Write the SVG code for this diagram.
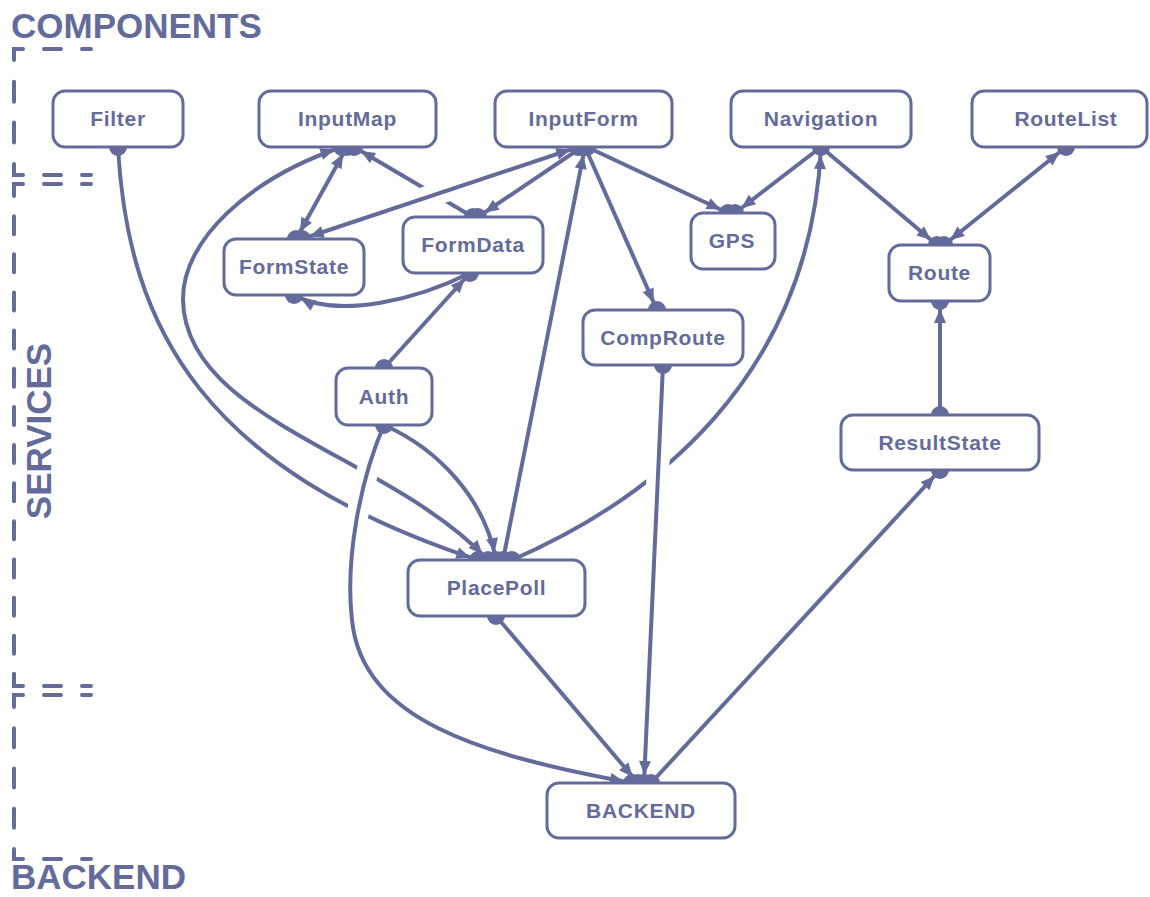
<svg xmlns="http://www.w3.org/2000/svg" width="1150" height="897" viewBox="0 0 1150 897">
<style>
.edge{fill:none;stroke:#646b9b;stroke-width:4}
.halo{fill:none;stroke:#ffffff;stroke-width:22}
.dot{fill:#646b9b}
.node rect{fill:#ffffff;stroke:#646b9b;stroke-width:3}
.node text{font-family:"Liberation Sans",Arial,sans-serif;font-weight:bold;font-size:21px;fill:#646b9b;text-anchor:middle;letter-spacing:0.7px}
.lane{fill:none;stroke:#646b9b;stroke-width:4;stroke-linecap:round}
.lane-label{font-family:"Liberation Sans",Arial,sans-serif;font-weight:bold;font-size:35px;fill:#646b9b}
</style>
<defs>
<marker id="arrow" markerUnits="userSpaceOnUse" markerWidth="14" markerHeight="12" refX="22" refY="6" orient="auto-start-reverse" overflow="visible">
<path d="M0,0 L14,6 L0,12 Z" fill="#646b9b"/>
</marker>
</defs>

<g id="lanes">
<text class="lane-label" x="11" y="38">COMPONENTS</text>
<text class="lane-label" x="11" y="889" font-size="34">BACKEND</text>
<text class="lane-label" transform="translate(51,431) rotate(-90)" text-anchor="middle" font-size="34">SERVICES</text>
<path class="lane" d="M23,49 H14 V60"/>
<path class="lane" d="M44,49 H61 M82,49 H91"/>
<path class="lane" d="M14,164 V175 H23"/>
<path class="lane" d="M44,175 H61 M82,175 H91"/>
<path class="lane" d="M14,81.7 V101.7 M14,122.4 V142.4"/>
<path class="lane" d="M23,184 H14 V196"/>
<path class="lane" d="M44,184 H61 M82,184 H91"/>
<path class="lane" d="M14,674 V686 H23"/>
<path class="lane" d="M44,686 H61 M82,686 H91"/>
<path class="lane" d="M14,196 V674" stroke-dasharray="18 20.15" stroke-dashoffset="18"/>
<path class="lane" d="M23,695 H14 V707"/>
<path class="lane" d="M44,695 H61 M82,695 H91"/>
<path class="lane" d="M14,849 V859 H23"/>
<path class="lane" d="M44,859 H61 M82,859 H91"/>
<path class="lane" d="M14,707 V849" stroke-dasharray="19 21.25" stroke-dashoffset="19"/>
</g>

<g id="connectors">
<path class="edge" d="M118,147 C128,330 205,470 478,560" marker-end="url(#arrow)"/>
<path class="edge" d="M488,560 C390,455 185,420 183,300 C182,240 250,178 342,147" marker-start="url(#arrow)" marker-end="url(#arrow)"/>
<path class="edge" d="M347,147 L296,239" marker-start="url(#arrow)" marker-end="url(#arrow)"/>
<path class="edge" d="M473,217 L354,147" marker-end="url(#arrow)"/>
<path class="edge" d="M582,147 L478,217" marker-end="url(#arrow)"/>
<path class="edge" d="M503,560 L585,147" marker-end="url(#arrow)"/>
<path class="edge" d="M587,147 L728,213" marker-end="url(#arrow)"/>
<path class="edge" d="M585,147 L657,310" marker-end="url(#arrow)"/>
<path class="edge" d="M821,147 L735,213" marker-end="url(#arrow)"/>
<path class="edge" d="M821,147 L937,245" marker-end="url(#arrow)"/>
<path class="edge" d="M1066,147 L944,245" marker-start="url(#arrow)" marker-end="url(#arrow)"/>
<path class="edge" d="M940,415 L940,301" marker-end="url(#arrow)"/>
<path class="edge" d="M651,783 L940,470" marker-end="url(#arrow)"/>
<path class="edge" d="M496,616 L638,783" marker-end="url(#arrow)"/>
<path class="edge" d="M384,425 C440,450 485,500 496,560" marker-end="url(#arrow)"/>
<path class="edge" d="M384,368 L470,273" marker-end="url(#arrow)"/>
<path class="edge" d="M470,273 C420,298 340,320 294,295" marker-end="url(#arrow)"/>
<path class="edge" d="M512,560 C650,500 810,380 821,147" marker-end="url(#arrow)"/>
<path class="halo" d="M372,455 Q360,495 354,535"/>
<path class="halo" d="M659,455 L656,500"/>
<path class="halo" d="M452,189 L412,202"/>
<path class="edge" d="M578,147 L302,239" marker-start="url(#arrow)" marker-end="url(#arrow)"/>
<path class="edge" d="M663,365 L644,783" marker-end="url(#arrow)"/>
<path class="edge" d="M384,425 C360,480 345,560 352,620 C362,720 480,755 632,783" marker-end="url(#arrow)"/>
<circle class="dot" cx="118" cy="147" r="9"/>
<circle class="dot" cx="342" cy="147" r="9"/>
<circle class="dot" cx="347" cy="147" r="9"/>
<circle class="dot" cx="354" cy="147" r="9"/>
<circle class="dot" cx="578" cy="147" r="9"/>
<circle class="dot" cx="582" cy="147" r="9"/>
<circle class="dot" cx="585" cy="147" r="9"/>
<circle class="dot" cx="587" cy="147" r="9"/>
<circle class="dot" cx="821" cy="147" r="9"/>
<circle class="dot" cx="1066" cy="147" r="9"/>
<circle class="dot" cx="296" cy="239" r="9"/>
<circle class="dot" cx="302" cy="239" r="9"/>
<circle class="dot" cx="294" cy="295" r="9"/>
<circle class="dot" cx="473" cy="217" r="9"/>
<circle class="dot" cx="478" cy="217" r="9"/>
<circle class="dot" cx="470" cy="273" r="9"/>
<circle class="dot" cx="728" cy="213" r="9"/>
<circle class="dot" cx="735" cy="213" r="9"/>
<circle class="dot" cx="937" cy="245" r="9"/>
<circle class="dot" cx="944" cy="245" r="9"/>
<circle class="dot" cx="940" cy="301" r="9"/>
<circle class="dot" cx="657" cy="310" r="9"/>
<circle class="dot" cx="663" cy="365" r="9"/>
<circle class="dot" cx="384" cy="368" r="9"/>
<circle class="dot" cx="384" cy="425" r="9"/>
<circle class="dot" cx="940" cy="415" r="9"/>
<circle class="dot" cx="940" cy="470" r="9"/>
<circle class="dot" cx="478" cy="560" r="9"/>
<circle class="dot" cx="488" cy="560" r="9"/>
<circle class="dot" cx="496" cy="560" r="9"/>
<circle class="dot" cx="503" cy="560" r="9"/>
<circle class="dot" cx="512" cy="560" r="9"/>
<circle class="dot" cx="496" cy="616" r="9"/>
<circle class="dot" cx="632" cy="783" r="9"/>
<circle class="dot" cx="638" cy="783" r="9"/>
<circle class="dot" cx="644" cy="783" r="9"/>
<circle class="dot" cx="651" cy="783" r="9"/>
</g>

<g id="node-filter" class="node"><rect x="53" y="91" width="130" height="56" rx="12"/><text x="118" y="126">Filter</text></g>
<g id="node-inputmap" class="node"><rect x="259" y="91" width="177" height="56" rx="12"/><text x="347.5" y="126">InputMap</text></g>
<g id="node-inputform" class="node"><rect x="495" y="91" width="177" height="56" rx="12"/><text x="583.5" y="126">InputForm</text></g>
<g id="node-navigation" class="node"><rect x="731" y="91" width="180" height="56" rx="12"/><text x="821" y="126">Navigation</text></g>
<g id="node-routelist" class="node"><rect x="972" y="91" width="175" height="56" rx="12"/><text x="1066" y="126">RouteList</text></g>
<g id="node-formstate" class="node"><rect x="224" y="239" width="140" height="56" rx="12"/><text x="294" y="274">FormState</text></g>
<g id="node-formdata" class="node"><rect x="403" y="217" width="140" height="56" rx="12"/><text x="473" y="252">FormData</text></g>
<g id="node-gps" class="node"><rect x="691" y="213" width="84" height="56" rx="12"/><text x="732" y="248">GPS</text></g>
<g id="node-route" class="node"><rect x="889" y="245" width="101" height="56" rx="12"/><text x="939.5" y="280">Route</text></g>
<g id="node-comproute" class="node"><rect x="583" y="310" width="160" height="55" rx="12"/><text x="663" y="345">CompRoute</text></g>
<g id="node-auth" class="node"><rect x="336" y="368" width="96" height="57" rx="12"/><text x="384" y="404">Auth</text></g>
<g id="node-resultstate" class="node"><rect x="841" y="415" width="198" height="55" rx="12"/><text x="940" y="450">ResultState</text></g>
<g id="node-placepoll" class="node"><rect x="408" y="560" width="177" height="56" rx="12"/><text x="496.5" y="595">PlacePoll</text></g>
<g id="node-backend" class="node"><rect x="547" y="783" width="188" height="55" rx="12"/><text x="641" y="818">BACKEND</text></g>
</svg>
